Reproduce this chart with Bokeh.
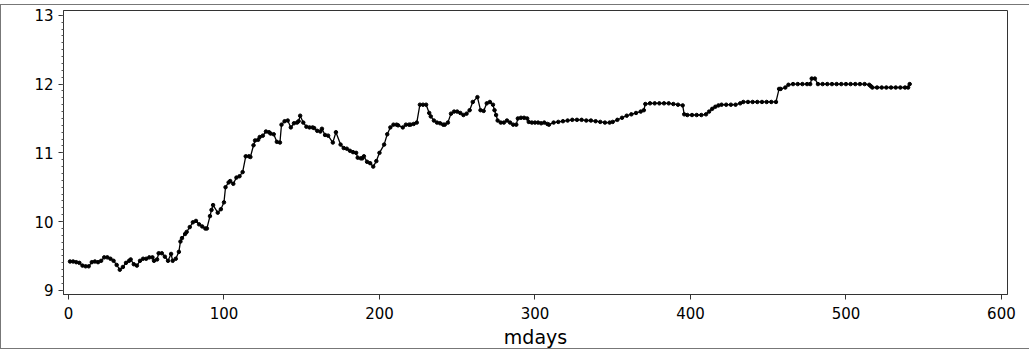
from bokeh.plotting import figure
from bokeh.models import Range1d, FixedTicker
from bokeh.embed import file_html
from bokeh.resources import INLINE

mdays = [
    1, 3, 5, 7, 9, 11, 13, 15, 17, 19,
    21, 23, 25, 27, 29, 31, 33, 35, 37, 39,
    40, 42, 44, 46, 48, 50, 52, 54, 55, 57,
    58, 60, 62, 64, 66, 67, 69, 71, 72, 73,
    75, 76, 78, 80, 82, 84, 86, 88, 89, 91,
    92, 93, 96, 98, 100, 101, 103, 104, 106, 108,
    110, 112, 114, 116, 117, 119, 120, 122, 123, 125,
    127, 129, 130, 132, 134, 136, 137, 139, 141, 143,
    145, 147, 148, 149, 151, 153, 155, 157, 158, 160,
    162, 163, 165, 167, 170, 172, 175, 177, 179, 181,
    183, 185, 186, 188, 189, 190, 192, 194, 196, 198,
    200, 203, 205, 207, 209, 211, 212, 215, 217, 219,
    220, 222, 224, 226, 228, 230, 232, 233, 235, 237,
    239, 241, 242, 244, 246, 248, 250, 252, 254, 256,
    258, 260, 263, 265, 267, 269, 271, 273, 274, 275,
    276, 278, 280, 282, 284, 286, 288, 289, 291, 293,
    295, 296, 298, 300, 302, 304, 306, 308, 309, 312,
    315, 318, 321, 324, 327, 330, 333, 336, 339, 342,
    345, 348, 350, 353, 356, 359, 362, 365, 368, 370,
    371, 374, 377, 380, 383, 386, 389, 392, 395, 396,
    398, 401, 404, 407, 410, 412, 414, 416, 418, 420,
    423, 426, 429, 432, 434, 437, 440, 443, 446, 449,
    452, 455, 457, 458, 461, 463, 466, 469, 472, 475,
    477, 478, 480, 482, 485, 488, 491, 494, 497, 500,
    503, 506, 509, 512, 515, 516, 517, 520, 523, 526,
    529, 532, 535, 538, 540, 541,
]

price = [
    9.42, 9.42, 9.41, 9.40, 9.36, 9.35, 9.35, 9.41, 9.42, 9.41,
    9.43, 9.48, 9.48, 9.46, 9.43, 9.37, 9.30, 9.34, 9.40, 9.43,
    9.45, 9.38, 9.36, 9.43, 9.46, 9.46, 9.48, 9.48, 9.43, 9.45,
    9.54, 9.54, 9.49, 9.43, 9.53, 9.43, 9.46, 9.56, 9.71, 9.76,
    9.82, 9.85, 9.92, 9.99, 10.01, 9.96, 9.93, 9.90, 9.90, 10.08,
    10.17, 10.24, 10.13, 10.18, 10.28, 10.50, 10.57, 10.59, 10.55, 10.64,
    10.66, 10.72, 10.95, 10.95, 10.94, 11.11, 11.18, 11.19, 11.23, 11.25,
    11.31, 11.30, 11.28, 11.27, 11.16, 11.15, 11.41, 11.46, 11.47, 11.37,
    11.43, 11.44, 11.46, 11.54, 11.44, 11.38, 11.37, 11.37, 11.36, 11.32,
    11.31, 11.35, 11.26, 11.25, 11.15, 11.30, 11.12, 11.07, 11.06, 11.03,
    11.01, 11.00, 10.93, 10.92, 10.92, 10.95, 10.87, 10.85, 10.80, 10.88,
    11.00, 11.12, 11.27, 11.37, 11.41, 11.41, 11.40, 11.37, 11.41, 11.41,
    11.41, 11.42, 11.44, 11.70, 11.70, 11.70, 11.58, 11.53, 11.47, 11.44,
    11.43, 11.41, 11.41, 11.44, 11.57, 11.60, 11.60, 11.58, 11.55, 11.57,
    11.62, 11.74, 11.81, 11.62, 11.61, 11.72, 11.74, 11.70, 11.62, 11.55,
    11.47, 11.44, 11.44, 11.47, 11.44, 11.41, 11.41, 11.50, 11.51, 11.51,
    11.50, 11.45, 11.44, 11.44, 11.44, 11.43, 11.44, 11.42, 11.41, 11.44,
    11.45, 11.46, 11.47, 11.48, 11.48, 11.48, 11.47, 11.47, 11.46, 11.45,
    11.44, 11.44, 11.45, 11.48, 11.51, 11.54, 11.56, 11.58, 11.60, 11.62,
    11.71, 11.72, 11.72, 11.72, 11.72, 11.72, 11.71, 11.70, 11.69, 11.56,
    11.55, 11.55, 11.55, 11.55, 11.56, 11.60, 11.64, 11.67, 11.69, 11.70,
    11.70, 11.70, 11.70, 11.72, 11.74, 11.74, 11.74, 11.74, 11.74, 11.74,
    11.74, 11.74, 11.93, 11.93, 11.95, 11.99, 12.00, 12.00, 12.00, 12.00,
    12.00, 12.08, 12.08, 12.00, 12.00, 12.00, 12.00, 12.00, 12.00, 12.00,
    12.00, 12.00, 12.00, 12.00, 11.99, 11.97, 11.95, 11.95, 11.95, 11.95,
    11.95, 11.95, 11.95, 11.95, 11.95, 12.00,
]

x_ticks = [0, 100, 200, 300, 400, 500, 600]
y_ticks = [9, 10, 11, 12, 13]
x_label = "mdays"

FONT = "DejaVu Sans"

p = figure(width=1029, height=345, output_backend="svg", toolbar_location=None,
           x_range=Range1d(-3.2, 603.9), y_range=Range1d(8.94, 13.07),
           min_border_left=62, min_border_right=23, min_border_top=5,
           min_border_bottom=54, background_fill_color="white",
           border_fill_color="white")
p.styles = {"border-left": "1px solid #777777",
            "border-top": "1px solid #777777",
            "border-bottom": "1px solid #777777",
            "margin-top": "4px"}

p.outline_line_color = "#333333"
p.outline_line_width = 1
p.xgrid.visible = False
p.ygrid.visible = False

p.xaxis.ticker = FixedTicker(ticks=x_ticks)
p.yaxis.ticker = FixedTicker(ticks=y_ticks,
                             minor_ticks=[9 + i * 0.1 for i in range(41)])
for ax in (p.xaxis[0], p.yaxis[0]):
    ax.axis_line_color = "#333333"
    ax.major_tick_line_color = "#333333"
    ax.major_tick_in = 0
    ax.major_tick_out = 5
    ax.major_label_text_font = FONT
    ax.major_label_text_font_size = "15px"
    ax.major_label_text_color = "black"
p.xaxis.minor_tick_line_color = None
p.yaxis.minor_tick_line_color = "#555555"
p.yaxis.minor_tick_in = 0
p.yaxis.minor_tick_out = 2
p.yaxis.major_label_standoff = 5
p.xaxis.major_label_standoff = 7
p.xaxis.axis_label = x_label
p.xaxis.axis_label_text_font = FONT
p.xaxis.axis_label_text_font_size = "19px"
p.xaxis.axis_label_text_font_style = "normal"
p.xaxis.axis_label_text_color = "black"
p.xaxis.axis_label_standoff = 4

p.line(mdays, price, line_color="black", line_width=1.3)
p.scatter(mdays, price, marker="circle", size=3.5, fill_color="black",
          line_color="black")

open("out.html", "w").write(file_html(p, INLINE))
